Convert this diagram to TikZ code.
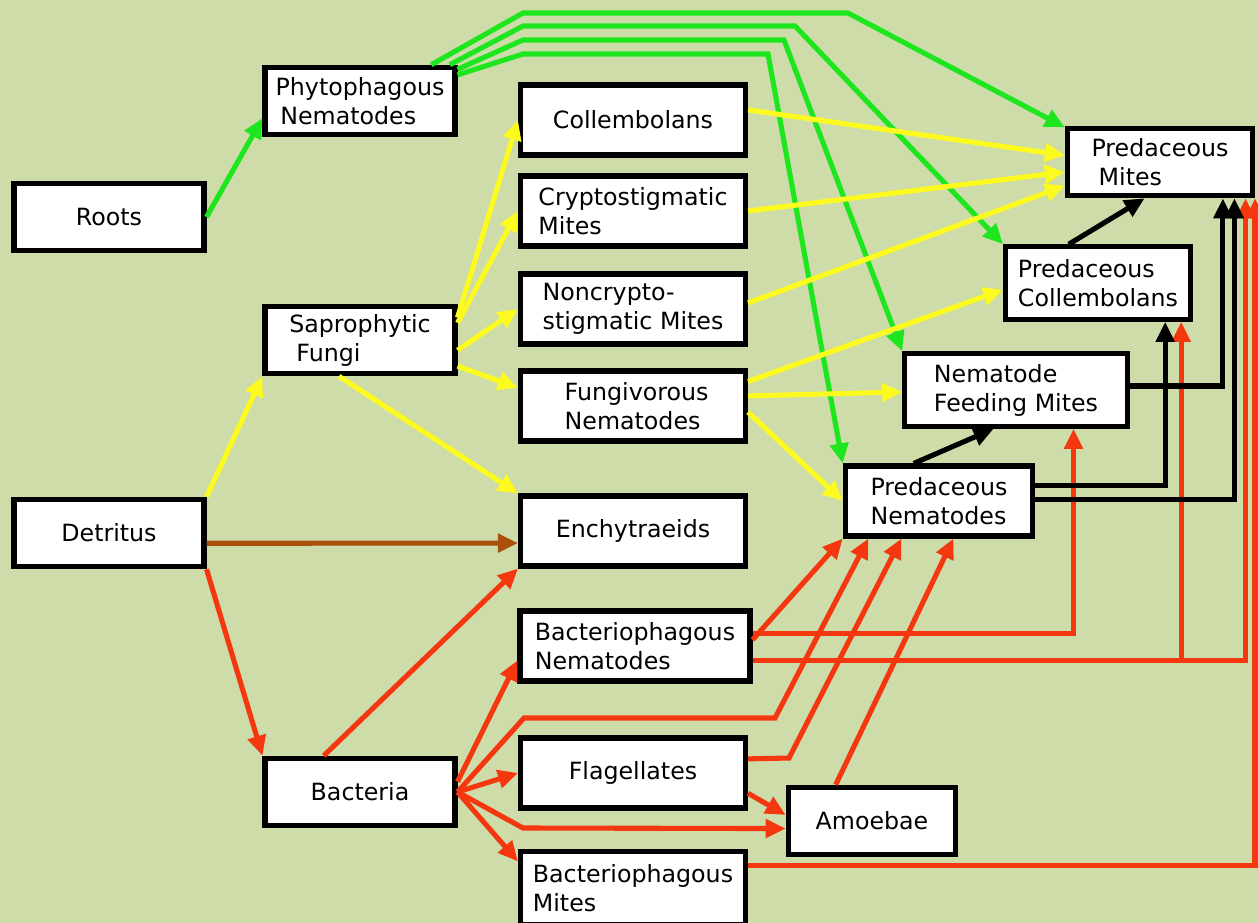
\documentclass[tikz,border=0pt]{standalone}
\usepackage{fontspec}
\setmainfont{DejaVu Sans}
\usetikzlibrary{arrows.meta}
\definecolor{soil}{RGB}{206,220,170}
\definecolor{leaf}{RGB}{30,230,30}
\definecolor{fungal}{RGB}{252,250,30}
\definecolor{bact}{RGB}{245,55,15}
\definecolor{organic}{RGB}{170,80,10}
\tikzset{
    box/.style={draw=black, fill=white, line width=2.9pt, align=left,
        minimum width=3.8cm, minimum height=1.35cm, inner sep=2pt,
        font=\fontsize{13.5}{16.5}\selectfont},
    wbox/.style={box, minimum width=4.5cm, minimum height=1.4cm},
    feed/.style={line width=2.9pt, -{Triangle[length=0.4cm,width=0.36cm]}}
}

\begin{document}
\begin{tikzpicture}[x=0.02cm, y=-0.02cm]
    \path[use as bounding box, fill=soil] (0,0) rectangle (1258,923);

    \node[box] (roots) at (109,217) {Roots};
    \node[box] (phyto) at (360,101) {Phytophagous\\\hspace*{0.2em}Nematodes};
    \node[box] (sapro) at (360,340) {Saprophytic\\\hspace*{0.3em}Fungi};
    \node[box] (detritus) at (109,533) {Detritus};
    \node[box] (bacteria) at (360,792) {Bacteria};

    \node[wbox] (coll) at (633,120) {Collembolans};
    \node[wbox] (crypto) at (633,211) {Cryptostigmatic\\Mites};
    \node[wbox] (noncrypto) at (633,309) {Noncrypto-\\stigmatic Mites};
    \node[wbox] (fungi) at (633,406) {\hspace*{0.3em}Fungivorous\\\hspace*{0.3em}Nematodes};
    \node[wbox] (enchy) at (633,531) {Enchytraeids};
    \node[wbox, minimum width=4.6cm] (bnem) at (635,646) {Bacteriophagous\\Nematodes};
    \node[wbox] (flag) at (633,773) {Flagellates};
    \node[wbox, minimum height=1.45cm] (bmites) at (633,888) {Bacteriophagous\\Mites};
    \node[box, minimum width=3.35cm] (amoebae) at (872,821) {Amoebae};

    \node[box, minimum width=3.75cm, minimum height=1.4cm] (pnem) at (939,501) {Predaceous\\Nematodes};
    \node[box, minimum width=4.45cm, minimum height=1.45cm] (nfm) at (1016,390) {Nematode\\Feeding Mites};
    \node[box, minimum width=3.7cm, minimum height=1.45cm] (pcoll) at (1098,283) {Predaceous\\Collembolans};
    \node[box, minimum width=3.7cm] (pmites) at (1160,162) {Predaceous\\\hspace*{0.3em}Mites};

    \draw[feed, leaf] (roots.east) -- (phyto.190);
    \foreach \a/\h/\x/\t in {27/13/848/pmites.160, 22/26/795/pcoll.north west,
            18/40/784/nfm.north west, 15/54/768/pnem.north west}
        \draw[feed, leaf] (phyto.\a) -- (523,\h) -- (\x,\h) -- (\t);

    \draw[feed, fungal] (detritus.north east) -- (sapro.south west);
    \foreach \a/\t in {13/coll.west, 10/crypto.west, 354/noncrypto.west, 345/fungi.171}
        \draw[feed, fungal] (sapro.\a) -- (\t);
    \draw[feed, fungal] (sapro.240) -- (enchy.north west);
    \draw[feed, fungal] (coll.5) -- (pmites.176);
    \draw[feed, fungal] (crypto.east) -- (pmites.186);
    \draw[feed, fungal] (noncrypto.3) -- (pmites.194);
    \draw[feed, fungal] (fungi.12) -- (pcoll.184);
    \draw[feed, fungal] (fungi.5) -- (nfm.181);
    \draw[feed, fungal] (fungi.357) -- (pnem.west);

    \draw[feed, organic] (detritus.354) -- (enchy.186);

    \draw[feed, bact] (detritus.south east) -- (bacteria.north west);
    \draw[feed, bact] (bacteria.135) -- (enchy.south west);
    \draw[feed, bact] (bacteria.6) -- (bnem.187);
    \draw[feed, bact] (bacteria.east) -- (524,718) -- (775,718) -- (pnem.208);
    \draw[feed, bact] (bacteria.east) -- (flag.west);
    \draw[feed, bact] (bacteria.east) -- (523,828) -- (amoebae.185);
    \draw[feed, bact] (bacteria.east) -- (bmites.167);
    \draw[feed, bact] (bnem.3) -- (pnem.south west);
    \draw[feed, bact] (bnem.6) -| (nfm.326);
    \draw[feed, bact] (bnem.353) -| (pmites.337);
    \draw[feed, bact] (bnem.353 -| pcoll.335) -- (pcoll.335);
    \draw[feed, bact] (flag.7) -- (789,758) -- (pnem.225);
    \draw[feed, bact] (flag.350) -- (amoebae.176);
    \draw[feed, bact] (amoebae.135) -- (pnem.291);
    \draw[feed, bact] (bmites.11) -| (pmites.south east);

    \draw[feed] (pcoll.127) -- (pmites.247);
    \draw[feed] (pnem.124) -- (nfm.240);
    \draw[feed] (nfm.2) -| (pmites.330);
    \draw[feed] (pnem.9) -| (pcoll.330);
    \draw[feed] (pnem.1) -| (pmites.334);
\end{tikzpicture}
\end{document}
